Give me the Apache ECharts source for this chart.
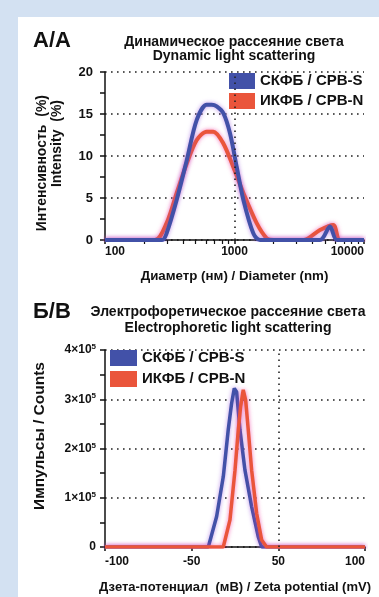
<!DOCTYPE html>
<html>
<head>
<meta charset="utf-8">
<script src="https://cdn.jsdelivr.net/npm/echarts@6/dist/echarts.min.js"></script>
<style>
  html, body { margin: 0; padding: 0; background: #d3e1f2; }
  #panel { position: absolute; left: 18px; top: 17px; width: 361px; height: 580px; background: #fff; }
  #chart { position: absolute; left: 0; top: 0; width: 379px; height: 597px; }
</style>
</head>
<body>
<div id="panel"></div>
<div id="chart"></div>
<script>
// series names
const nameS = 'СКФБ / CPB-S';
const nameN = 'ИКФБ / CPB-N';

// dynamic light scattering: [diameter nm, intensity %]
const dlsS = [[100, 0], [276, 0], [299, 0.8], [358, 4.8], [428, 9.5], [511, 14.3], [610, 16.1], [667, 16.1],
  [729, 15.9], [820, 15.1], [923, 12.7], [1040, 8.7], [1170, 4.8], [1397, 0.8], [1574, 0], [4570, 0],
  [5460, 1.6], [6190, 0], [10000, 0]];
const dlsN = [[100, 0], [243, 0], [299, 2.0], [358, 5.6], [428, 9.1], [511, 11.9], [610, 12.9], [686, 12.9],
  [820, 11.5], [979, 8.7], [1170, 5.6], [1483, 2.0], [1774, 0.2], [1995, 0], [3400, 0], [4570, 1.2],
  [5790, 1.8], [6530, 0], [10000, 0]];

// electrophoretic light scattering: [zeta mV, counts]
const elsS = [[-150, 0], [-30.8, 0], [-21.2, 62000], [-13.5, 143000], [-7.8, 238000], [-3.9, 292000],
  [-0.8, 322000], [1.9, 315000], [5.7, 238000], [11.5, 156000], [19.2, 82000], [26.8, 21000], [30.8, 0], [150, 0]];
const elsN = [[-150, 0], [-13.5, 0], [-5.8, 55000], [0, 156000], [3.8, 238000], [6.5, 285000], [9.5, 319000],
  [12.3, 298000], [15.3, 238000], [19.2, 156000], [25, 68000], [30.8, 14000], [36.5, 0], [150, 0]];

// zeta axis tick labels (axis drawn with evenly spaced label positions as in the source)
const zetaTicks = [-150, -50, 50, 150];
const zetaTickLabels = ['-100', '-50', '50', '100'];

const blue = '#4251a8';
const red = '#ea553b';
const font = 'Liberation Sans, Arial, sans-serif';
const dotted = { color: '#222', width: 1.6, type: [1.6, 4.4] };

const chart = echarts.init(document.getElementById('chart'));

const axisLine = { onZero: false, lineStyle: { color: '#111', width: 1.5 } };
const tickStyle = { lineStyle: { color: '#111', width: 1.5 } };

const option = {
  animation: false,
  textStyle: { fontFamily: font },
  title: [
    {
      text: 'Динамическое рассеяние света\nDynamic light scattering',
      left: 234, top: 35, textAlign: 'center', padding: 0,
      textStyle: { fontSize: 14, fontWeight: 'bold', color: '#111', lineHeight: 14, fontFamily: font }
    },
    {
      text: 'Электрофоретическое рассеяние света\nElectrophoretic light scattering',
      left: 228, top: 304, textAlign: 'center', padding: 0,
      textStyle: { fontSize: 14, fontWeight: 'bold', color: '#111', lineHeight: 16, fontFamily: font }
    }
  ],
  legend: [
    {
      data: [nameS, nameN], orient: 'vertical', left: 229, top: 73, padding: 0,
      itemWidth: 26, itemHeight: 16, itemGap: 4, icon: 'rect',
      textStyle: { fontSize: 15, fontWeight: 'bold', color: '#111', fontFamily: font }
    },
    {
      data: [nameS, nameN], orient: 'vertical', left: 110, top: 350, padding: 0,
      itemWidth: 27, itemHeight: 16, itemGap: 5, icon: 'rect',
      textStyle: { fontSize: 15, fontWeight: 'bold', color: '#111', fontFamily: font }
    }
  ],
  grid: [
    { left: 105, right: 15, top: 72, bottom: 357 },
    { left: 105, right: 14, top: 350, bottom: 50 }
  ],
  xAxis: [
    {
      gridIndex: 0, type: 'log', logBase: 10, min: 100, max: 10000,
      name: 'Диаметр (нм) / Diameter (nm)', nameLocation: 'middle', nameGap: 30,
      nameTextStyle: { fontSize: 13.3, fontWeight: 'bold', color: '#111' },
      axisLine, axisTick: { length: 4, ...tickStyle },
      minorTick: { show: true, splitNumber: 9, length: 4, lineStyle: { color: '#111', width: 1.2 } },
      axisLabel: {
        fontSize: 12, fontWeight: 'bold', color: '#111', margin: 6, alignMinLabel: 'left', alignMaxLabel: 'right',
        formatter: (v) => String(Math.round(v))
      },
      splitLine: { show: false }
    },
    {
      gridIndex: 1, type: 'value', min: -150, max: 150, interval: 100,
      name: 'Дзета-потенциал  (мВ) / Zeta potential (mV)', nameLocation: 'middle', nameGap: 34,
      nameTextStyle: { fontSize: 13, fontWeight: 'bold', color: '#111' },
      axisLine, axisTick: { length: 4, ...tickStyle },
      axisLabel: {
        fontSize: 12, fontWeight: 'bold', color: '#111', margin: 9, alignMinLabel: 'left', alignMaxLabel: 'right',
        formatter: (v) => zetaTickLabels[zetaTicks.indexOf(v)] ?? ''
      },
      splitLine: { show: false }
    }
  ],
  yAxis: [
    {
      gridIndex: 0, type: 'value', min: 0, max: 20, interval: 5,
      axisLine: { show: true, ...axisLine }, axisTick: { show: true, length: 5, ...tickStyle },
      minorTick: { show: true, splitNumber: 2, length: 5, lineStyle: { color: '#111', width: 1.5 } },
      axisLabel: { fontSize: 13, fontWeight: 'bold', color: '#111', margin: 12 },
      splitLine: { lineStyle: dotted }
    },
    {
      gridIndex: 1, type: 'value', min: 0, max: 400000, interval: 100000,
      axisLine: { show: true, ...axisLine }, axisTick: { show: true, length: 5, ...tickStyle },
      minorTick: { show: true, splitNumber: 2, length: 5, lineStyle: { color: '#111', width: 1.5 } },
      axisLabel: {
        margin: 9, color: '#111',
        formatter: (v) => v === 0 ? '{b|0}' : '{b|' + (v / 100000) + '×10}{s|5}',
        rich: {
          b: { fontSize: 12, fontWeight: 'bold', color: '#111', fontFamily: font },
          s: { fontSize: 8, fontWeight: 'bold', color: '#111', verticalAlign: 'top', padding: [0, 0, 6, 0], fontFamily: font }
        }
      },
      splitLine: { lineStyle: dotted }
    }
  ],
  graphic: [
    { type: 'text', left: 33, top: 30, style: { text: 'A/A', font: 'bold 22px ' + font, fill: '#111' } },
    { type: 'text', left: 33, top: 301, style: { text: 'Б/В', font: 'bold 22px ' + font, fill: '#111' } },
    {
      type: 'text', x: 42, y: 95, rotation: Math.PI / 2,
      style: { text: 'Интенсивность  (%)', font: 'bold 14px ' + font, fill: '#111', align: 'right', verticalAlign: 'middle' }
    },
    {
      type: 'text', x: 57, y: 100, rotation: Math.PI / 2,
      style: { text: 'Intensity  (%)', font: 'bold 14px ' + font, fill: '#111', align: 'right', verticalAlign: 'middle' }
    },
    {
      type: 'text', x: 40, y: 436, rotation: Math.PI / 2,
      style: { text: 'Импульсы / Counts', font: 'bold 15.5px ' + font, fill: '#111', align: 'center', verticalAlign: 'middle' }
    }
  ],
  series: [
    {
      name: nameN, type: 'line', xAxisIndex: 0, yAxisIndex: 0, data: dlsN, showSymbol: false, smooth: 0.3,
      itemStyle: { color: red },
      lineStyle: { color: red, width: 4, shadowColor: 'rgba(240,60,160,0.7)', shadowBlur: 4 },
      markLine: {
        silent: true, symbol: 'none', label: { show: false },
        lineStyle: dotted, data: [{ xAxis: 1000 }]
      }
    },
    {
      name: nameS, type: 'line', xAxisIndex: 0, yAxisIndex: 0, data: dlsS, showSymbol: false, smooth: 0.3,
      itemStyle: { color: blue },
      lineStyle: { color: blue, width: 4, shadowColor: 'rgba(150,80,220,0.6)', shadowBlur: 4 }
    },
    {
      name: nameS, type: 'line', xAxisIndex: 1, yAxisIndex: 1, data: elsS, showSymbol: false,
      itemStyle: { color: blue },
      lineStyle: { color: blue, width: 3.5, shadowColor: 'rgba(150,80,220,0.6)', shadowBlur: 4 },
      markLine: {
        silent: true, symbol: 'none', label: { show: false },
        lineStyle: dotted, data: [{ xAxis: 50 }]
      }
    },
    {
      name: nameN, type: 'line', xAxisIndex: 1, yAxisIndex: 1, data: elsN, showSymbol: false,
      itemStyle: { color: red },
      lineStyle: { color: red, width: 3.5, shadowColor: 'rgba(240,60,160,0.7)', shadowBlur: 4 }
    }
  ]
};

chart.setOption(option);
window.addEventListener('resize', () => chart.resize());
</script>
</body>
</html>
